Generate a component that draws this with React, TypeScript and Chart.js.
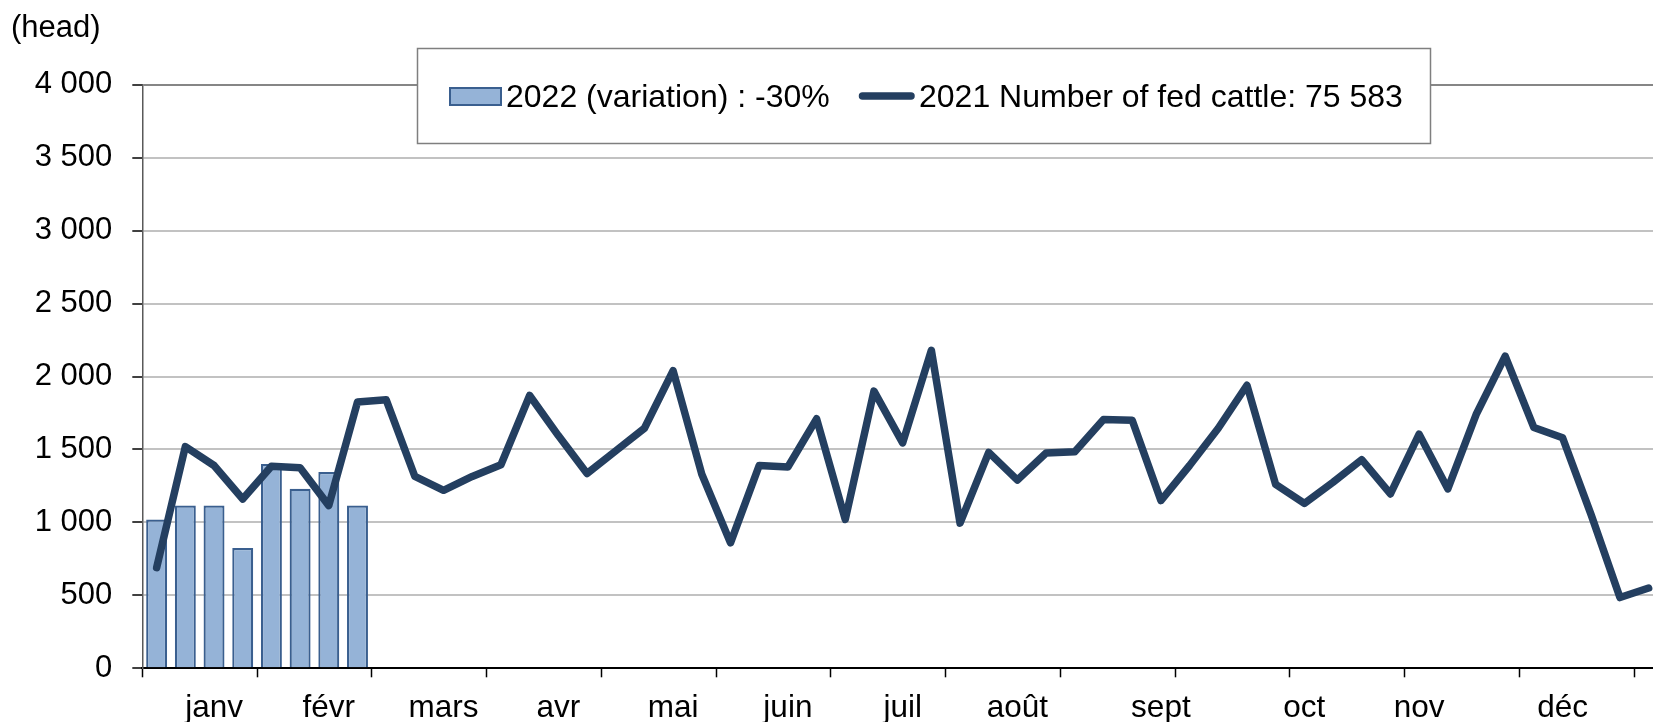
import React, { useEffect, useRef } from "react";
import { Chart, registerables } from "chart.js";

Chart.register(...registerables);

const FONT = "'Liberation Sans', Arial, Helvetica, sans-serif";

const weeks = [
  "1", "2", "3", "4", "5", "6", "7", "8", "9", "10",
  "11", "12", "13", "14", "15", "16", "17", "18", "19", "20",
  "21", "22", "23", "24", "25", "26", "27", "28", "29", "30",
  "31", "32", "33", "34", "35", "36", "37", "38", "39", "40",
  "41", "42", "43", "44", "45", "46", "47", "48", "49", "50",
  "51", "52", "53",
];

const monthLabels = ["janv", "févr", "mars", "avr", "mai", "juin", "juil", "août", "sept", "oct", "nov", "déc"];
// week index (0-based) under which each month label is written
const monthLabelWeek = [2, 6, 10, 14, 18, 22, 26, 30, 35, 40, 44, 49];

const cattle2021 = [
  690, 1520, 1390, 1160, 1385, 1375, 1115, 1825, 1840, 1315,
  1220, 1315, 1395, 1870, 1595, 1335, 1490, 1645, 2040, 1330,
  860, 1390, 1380, 1710, 1020, 1900, 1545, 2180, 995, 1480,
  1290, 1475, 1485, 1705, 1700, 1150, 1390, 1645, 1940, 1260,
  1130, 1275, 1430, 1195, 1605, 1230, 1745, 2140, 1650, 1580,
  1050, 485, 550,
];

const cattle2022 = [1020, 1115, 1115, 825, 1400, 1230, 1345, 1115];

const label2022 = "2022 (variation) : -30%";
const label2021 = "2021 Number of fed cattle: 75 583";

const yTicks = { min: 0, max: 4000, step: 500 };

const fmt = (v: number) => String(v).replace(/\B(?=(\d{3})+(?!\d))/g, " ");

const overlayPlugin = {
  id: "overlay",
  afterDraw(chart: any) {
    const ctx = chart.ctx as CanvasRenderingContext2D;
    const barDs = chart.data.datasets[0];
    const lineDs = chart.data.datasets[1];
    ctx.save();
    ctx.font = `31px ${FONT}`;
    ctx.fillStyle = "#000";
    ctx.textAlign = "left";
    ctx.textBaseline = "alphabetic";
    ctx.fillText("(head)", 11, 37);

    // legend box
    ctx.fillStyle = "#fff";
    ctx.fillRect(417, 48, 1014, 96);
    ctx.strokeStyle = "#7f7f7f";
    ctx.lineWidth = 1.5;
    ctx.strokeRect(417.5, 48.5, 1013, 95);

    ctx.fillStyle = barDs.backgroundColor;
    ctx.fillRect(450, 88, 51, 17);
    ctx.strokeStyle = barDs.borderColor;
    ctx.lineWidth = 2;
    ctx.strokeRect(450, 88, 51, 17);

    ctx.font = `32px ${FONT}`;
    ctx.fillStyle = "#000";
    ctx.fillText(barDs.label, 506, 106.5);

    ctx.strokeStyle = lineDs.borderColor;
    ctx.lineWidth = 7.5;
    ctx.lineCap = "round";
    ctx.beginPath();
    ctx.moveTo(862.5, 96);
    ctx.lineTo(911, 96);
    ctx.stroke();

    ctx.fillStyle = "#000";
    ctx.fillText(lineDs.label, 919, 106.5);
    ctx.restore();
  },
};

export default function App() {
  const canvasRef = useRef<HTMLCanvasElement | null>(null);

  useEffect(() => {
    if (!canvasRef.current) return;
    const chart = new Chart(canvasRef.current, {
      type: "bar",
      data: {
        labels: weeks,
        datasets: [
          {
            type: "bar",
            label: label2022,
            data: cattle2022,
            backgroundColor: "#95B3D7",
            borderColor: "#3A5F8F",
            borderWidth: 2.2,
            barPercentage: 0.73,
            categoryPercentage: 1,
            order: 2,
          },
          {
            type: "line",
            label: label2021,
            data: cattle2021,
            borderColor: "#243F60",
            backgroundColor: "#243F60",
            borderWidth: 7.5,
            pointRadius: 0,
            tension: 0,
            borderCapStyle: "round",
            borderJoinStyle: "round",
            order: 1,
          } as any,
        ],
      },
      options: {
        animation: false,
        responsive: false,
        layout: { padding: { top: 84.7, left: 0, right: 0, bottom: 0 } },
        plugins: {
          legend: { display: false },
          tooltip: { enabled: false },
        },
        scales: {
          x: {
            offset: true,
            afterFit: (s: any) => {
              s.height = 53.7;
            },
            border: { display: true, color: "#000", width: 2 },
            grid: {
              display: true,
              offset: true,
              drawOnChartArea: false,
              drawTicks: true,
              tickLength: 9,
              tickWidth: 1.5,
              tickColor: (c: any) => (c.index !== undefined && c.index % 4 === 0 ? "#000" : "rgba(0,0,0,0)"),
              color: "rgba(0,0,0,0)",
            },
            ticks: {
              autoSkip: false,
              maxRotation: 0,
              minRotation: 0,
              padding: 12,
              color: "#000",
              font: { family: FONT, size: 31.5 },
              callback: (_v: any, i: number) => {
                const m = monthLabelWeek.indexOf(i);
                return m >= 0 ? monthLabels[m] : "";
              },
            },
          },
          y: {
            min: yTicks.min,
            max: yTicks.max,
            afterFit: (s: any) => {
              s.width = 142.3;
            },
            border: { display: true, color: "#595959", width: 1.5 },
            grid: {
              color: (c: any) => (c.tick && c.tick.value === yTicks.max ? "#868686" : "#C2C2C2"),
              lineWidth: 2,
              tickLength: 10,
              tickColor: "#000",
              tickWidth: 1.5,
            },
            ticks: {
              stepSize: yTicks.step,
              padding: 20,
              color: "#000",
              font: { family: FONT, size: 31 },
              callback: (v: any) => fmt(Number(v)),
            },
          },
        },
      },
      plugins: [overlayPlugin],
    });
    return () => chart.destroy();
  }, []);

  return (
    <div
      style={{
        position: "fixed",
        left: 0,
        top: 0,
        width: 1653,
        height: 722,
        overflow: "hidden",
        background: "#fff",
      }}
    >
      <canvas ref={canvasRef} width={1663} height={722} style={{ width: 1663, height: 722, display: "block" }} />
    </div>
  );
}
